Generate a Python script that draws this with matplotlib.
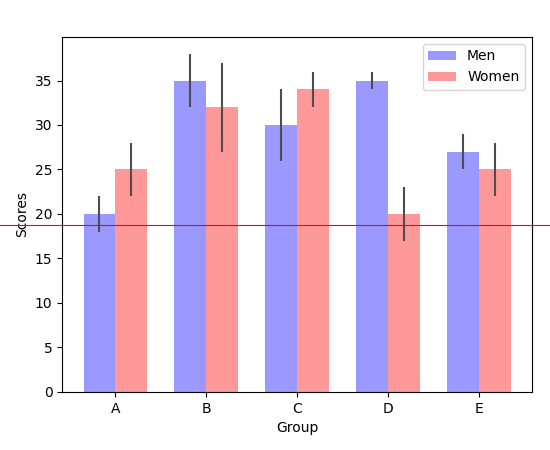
import numpy as np
import matplotlib
matplotlib.use("Agg")
import matplotlib.pyplot as plt

# data
groups = ["A", "B", "C", "D", "E"]
men_means = [20, 35, 30, 35, 27]
men_std = [2, 3, 4, 1, 2]
women_means = [25, 32, 34, 20, 25]
women_std = [3, 5, 2, 3, 3]
ref_level = 18.8

fig, ax = plt.subplots(figsize=(5.5, 4.5), dpi=100)
fig.subplots_adjust(left=0.113, right=0.967, bottom=0.129, top=0.918)

index = np.arange(len(groups))
bar_width = 0.35
err = {"ecolor": "0.3"}

ax.bar(index - bar_width / 2, men_means, bar_width, alpha=0.4, color="b",
       yerr=men_std, error_kw=err, label="Men")
ax.bar(index + bar_width / 2, women_means, bar_width, alpha=0.4, color="r",
       yerr=women_std, error_kw=err, label="Women")

# red line running across the whole figure
ax.axhline(ref_level, xmin=-0.2, xmax=1.1, color="red", linewidth=0.8, clip_on=False)

ax.set_xlabel("Group")
ax.set_ylabel("Scores")
ax.set_xticks(index)
ax.set_xticklabels(groups)
ax.legend()

fig.savefig("out.png")
